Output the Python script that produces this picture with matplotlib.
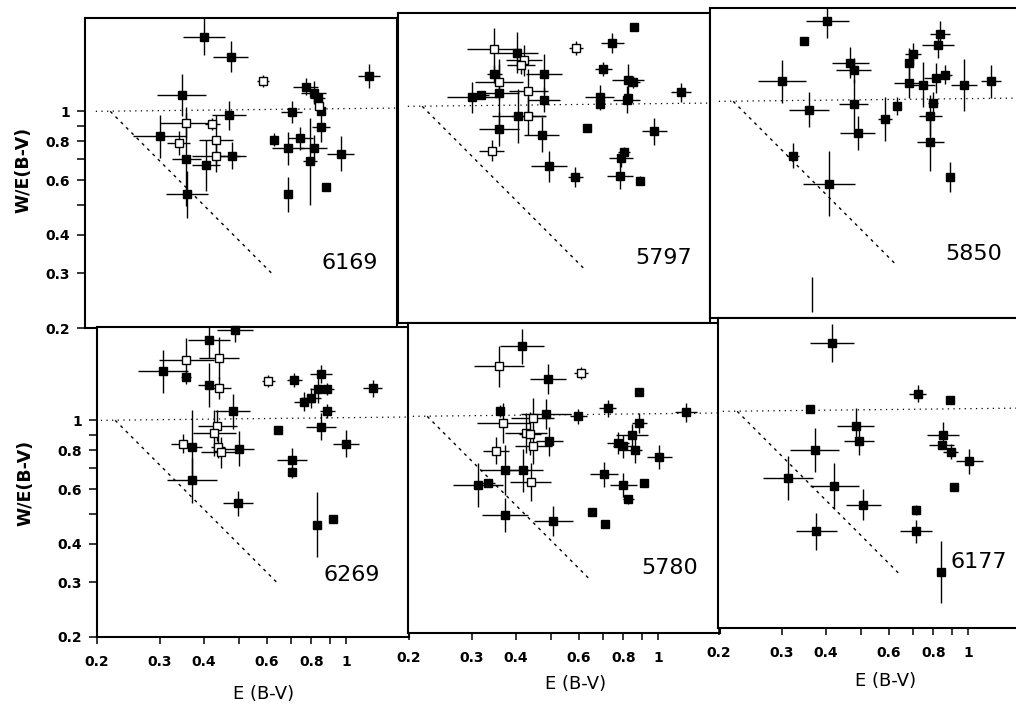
#!/usr/bin/env python3
"""Six-panel log-log plot of W/E(B-V) against E(B-V) for six DIBs."""

import matplotlib

matplotlib.use("Agg")
import matplotlib.pyplot as plt
import numpy as np
from matplotlib.ticker import FixedFormatter, FixedLocator, NullFormatter, NullLocator

# ---------------------------------------------------------------- data
# errors are half-widths in dex (log10)
X_6169 = [0.413, 0.49, 0.605, 0.357, 0.484, 0.368, 0.436, 0.31, 0.35, 0.446, 0.368, 0.446, 0.495, 0.418,
          0.37, 0.65, 0.727, 0.71, 0.77, 0.797, 0.84, 0.86, 0.88, 0.87, 0.88, 0.84, 0.82, 0.71, 0.91, 1.0, 1.2]
Y_6169 = [1.74, 1.50, 1.25, 1.13, 0.97, 0.92, 0.91, 0.83, 0.79, 0.81, 0.70, 0.72, 0.72, 0.67,
          0.54, 0.81, 0.995, 0.76, 0.82, 1.2, 1.15, 1.1, 1.0, 1.04, 0.89, 0.76, 0.69, 0.54, 0.57, 0.73, 1.3]
DX_6169 = [0.060, 0.050, 0.016, 0.069, 0.048, 0.075, 0.02, 0.075, 0.033, 0.047, 0.04, 0.068, 0.038, 0.04,
           0.058, 0.0, 0.03, 0.045, 0.035, 0.035, 0.035, 0.02, 0.01, 0.0, 0.026, 0.038, 0.02, 0.0, 0.0, 0.038, 0.03]
DY_6169 = [0.059, 0.050, 0.020, 0.067, 0.046, 0.05, 0.02, 0.07, 0.038, 0.08, 0.15, 0.054, 0.043, 0.083,
           0.075, 0.02, 0.037, 0.054, 0.037, 0.028, 0.037, 0.02, 0.01, 0.0, 0.048, 0.043, 0.14, 0.056, 0.0, 0.056, 0.038]
OPEN_6169 = [0, 0, 1, 0, 0, 1, 1, 0, 1, 1, 0, 1, 0, 0, 0, 0, 0, 0, 0, 0, 0, 0, 0, 1, 0, 0, 0, 0, 0, 0, 0]

X_5797 = [0.358, 0.416, 0.435, 0.426, 0.359, 0.495, 0.37, 0.311, 0.33, 0.37, 0.447, 0.495, 0.419, 0.447,
          0.37, 0.487, 0.353, 0.51, 0.605, 0.608, 0.77, 0.886, 0.726, 0.853, 0.88, 0.709, 0.709, 0.844,
          0.85, 0.653, 1.01, 0.828, 0.814, 0.81, 0.92, 1.2]
Y_5797 = [1.53, 1.49, 1.41, 1.36, 1.27, 1.27, 1.2, 1.07, 1.09, 1.10, 1.12, 1.05, 0.93, 0.93,
          0.845, 0.81, 0.72, 0.64, 0.59, 1.54, 1.6, 1.8, 1.32, 1.22, 1.20, 1.07, 1.02, 1.05,
          1.06, 0.85, 0.83, 0.714, 0.683, 0.598, 0.576, 1.11]
DX_5797 = [0.075, 0.058, 0.05, 0.04, 0.02, 0.05, 0.068, 0.07, 0.02, 0.056, 0.054, 0.045, 0.075, 0.05,
           0.056, 0.05, 0.035, 0.05, 0.021, 0.02, 0.033, 0.0, 0.023, 0.045, 0.02, 0.04, 0.0, 0.037,
           0.01, 0.0, 0.035, 0.017, 0.033, 0.037, 0.0, 0.027]
DY_5797 = [0.067, 0.067, 0.05, 0.03, 0.03, 0.065, 0.058, 0.05, 0.01, 0.11, 0.07, 0.04, 0.086, 0.06,
           0.054, 0.056, 0.035, 0.05, 0.032, 0.022, 0.032, 0.0, 0.024, 0.05, 0.02, 0.04, 0.0, 0.043,
           0.01, 0.0, 0.043, 0.015, 0.03, 0.043, 0.015, 0.03]
OPEN_5797 = [1, 0, 1, 1, 0, 0, 1, 0, 0, 0, 1, 0, 0, 1, 0, 0, 1, 0, 0, 1, 0, 0, 0, 0, 0, 0, 0, 0,
             0, 0, 0, 0, 0, 0, 0, 0]

X_5850 = [0.414, 0.356, 0.309, 0.479, 0.49, 0.49, 0.368, 0.503, 0.6, 0.65, 0.331, 0.419, 0.70, 0.72,
          0.70, 0.77, 0.836, 0.885, 0.846, 0.855, 1.0, 1.19, 0.82, 0.806, 0.806, 0.916]
Y_5850 = [1.81, 1.57, 1.16, 1.33, 1.26, 0.98, 0.94, 0.79, 0.877, 0.966, 0.668, 0.543, 1.33, 1.42,
          1.15, 1.13, 1.19, 1.22, 1.52, 1.65, 1.13, 1.16, 0.985, 0.9, 0.738, 0.57]
DX_5850 = [0.06, 0.0, 0.068, 0.052, 0.05, 0.042, 0.056, 0.05, 0.02, 0.01, 0.016, 0.073, 0.01, 0.023,
           0.041, 0.033, 0.033, 0.019, 0.045, 0.028, 0.037, 0.028, 0.014, 0.033, 0.037, 0.0]
DY_5850 = [0.054, 0.0, 0.07, 0.05, 0.04, 0.08, 0.056, 0.056, 0.07, 0.03, 0.04, 0.105, 0.048, 0.035,
           0.05, 0.073, 0.048, 0.032, 0.043, 0.04, 0.083, 0.054, 0.038, 0.065, 0.093, 0.048]
OPEN_5850 = [0] * 26
# lone vertical bar (point below the plotted range)
BAR_5850_X = [0.375]
BAR_5850_YLO = [0.209]
BAR_5850_YHI = [0.272]

X_6269 = [0.488, 0.413, 0.356, 0.44, 0.307, 0.356, 0.413, 0.44, 0.481, 0.436, 0.427, 0.348, 0.369, 0.438,
          0.446, 0.502, 0.369, 0.497, 0.606, 0.717, 0.852, 0.834, 0.884, 0.798, 0.764, 0.887, 0.85,
          0.643, 1.0, 0.707, 0.707, 0.832, 0.918, 1.19]
Y_6269 = [1.96, 1.82, 1.57, 1.59, 1.44, 1.38, 1.3, 1.27, 1.07, 0.96, 0.91, 0.84, 0.82, 0.82,
          0.79, 0.81, 0.64, 0.54, 1.34, 1.35, 1.41, 1.26, 1.26, 1.18, 1.15, 1.07, 0.954,
          0.93, 0.84, 0.745, 0.68, 0.46, 0.48, 1.27]
DX_6269 = [0.05, 0.06, 0.077, 0.056, 0.07, 0.015, 0.03, 0.035, 0.05, 0.054, 0.06, 0.033, 0.03, 0.02,
           0.056, 0.042, 0.07, 0.042, 0.019, 0.021, 0.03, 0.021, 0.02, 0.028, 0.03, 0.021, 0.042,
           0.0, 0.037, 0.042, 0.0, 0.01, 0.0, 0.026]
DY_6269 = [0.04, 0.06, 0.07, 0.067, 0.07, 0.024, 0.07, 0.035, 0.056, 0.05, 0.075, 0.03, 0.12, 0.035,
           0.05, 0.056, 0.073, 0.04, 0.02, 0.022, 0.03, 0.045, 0.02, 0.032, 0.03, 0.022, 0.043,
           0.0, 0.043, 0.038, 0.018, 0.105, 0.0, 0.027]
OPEN_6269 = [0, 0, 1, 1, 0, 0, 0, 1, 0, 1, 1, 1, 0, 1, 1, 0, 0, 0, 1, 0, 0, 0, 0, 0, 0, 0, 0,
             0, 0, 0, 0, 0, 0, 0]

X_5780 = [0.415, 0.358, 0.492, 0.608, 0.887, 0.36, 0.484, 0.598, 0.723, 1.2, 0.368, 0.445, 0.426, 0.437,
          0.447, 0.495, 0.351, 0.371, 0.419, 0.439, 0.313, 0.333, 0.372, 0.509, 0.652, 0.71, 0.707,
          0.80, 0.826, 0.912, 0.772, 0.80, 0.844, 0.86, 0.887, 1.01]
Y_5780 = [1.68, 1.45, 1.32, 1.38, 1.2, 1.04, 1.02, 1.0, 1.06, 1.03, 0.95, 0.985, 0.885, 0.88,
          0.8, 0.83, 0.775, 0.67, 0.67, 0.615, 0.6, 0.61, 0.48, 0.46, 0.49, 0.45, 0.65,
          0.6, 0.54, 0.61, 0.82, 0.8, 0.87, 0.78, 0.95, 0.74]
DX_5780 = [0.061, 0.07, 0.05, 0.02, 0.0, 0.01, 0.07, 0.023, 0.023, 0.03, 0.075, 0.06, 0.058, 0.03,
           0.052, 0.038, 0.037, 0.07, 0.054, 0.058, 0.07, 0.02, 0.065, 0.054, 0.0, 0.0, 0.04,
           0.037, 0.015, 0.0, 0.03, 0.03, 0.045, 0.02, 0.021, 0.035]
DY_5780 = [0.056, 0.067, 0.048, 0.02, 0.0, 0.02, 0.048, 0.024, 0.027, 0.03, 0.065, 0.065, 0.065, 0.07,
           0.056, 0.048, 0.043, 0.08, 0.07, 0.062, 0.07, 0.01, 0.056, 0.048, 0.0, 0.0, 0.04,
           0.04, 0.015, 0.0, 0.035, 0.037, 0.037, 0.043, 0.032, 0.038]
OPEN_5780 = [0, 1, 0, 1, 0, 0, 0, 0, 0, 0, 1, 1, 1, 1, 1, 0, 1, 0, 0, 1, 0, 0, 0, 0, 0, 0, 0,
             0, 0, 0, 0, 0, 0, 0, 0, 0]

X_6177 = [0.415, 0.36, 0.723, 0.89, 0.485, 0.496, 0.371, 0.313, 0.422, 0.509, 0.375, 0.85, 0.844,
          0.895, 1.01, 0.917, 0.713, 0.715, 0.84]
Y_6177 = [1.66, 1.02, 1.14, 1.09, 0.9, 0.8, 0.75, 0.61, 0.574, 0.5, 0.41, 0.84, 0.78,
          0.74, 0.69, 0.57, 0.48, 0.41, 0.304]
DX_6177 = [0.061, 0.0, 0.023, 0.0, 0.052, 0.042, 0.069, 0.07, 0.07, 0.05, 0.058, 0.045, 0.035,
           0.021, 0.037, 0.0, 0.0, 0.044, 0.01]
DY_6177 = [0.062, 0.0, 0.027, 0.0, 0.056, 0.043, 0.07, 0.07, 0.073, 0.05, 0.059, 0.04, 0.01,
           0.024, 0.04, 0.0, 0.015, 0.038, 0.1]
OPEN_6177 = [0] * 19

# reference lines (same in every panel)
HLINE_X = [0.205, 1.5]
HLINE_Y = [1.0, 1.025]
DIAG_X = [0.225, 0.64]
DIAG_Y = [1.0, 0.3]

X_MAJOR = [0.2, 0.3, 0.4, 0.6, 0.8, 1.0]
X_MAJOR_LABELS = ["0.2", "0.3", "0.4", "0.6", "0.8", "1"]
X_MINOR = [0.5, 0.7, 0.9]
Y_MAJOR = [0.2, 0.3, 0.4, 0.6, 0.8, 1.0]
Y_MAJOR_LABELS = ["0.2", "0.3", "0.4", "0.6", "0.8", "1"]
Y_MINOR = [0.5, 0.7, 0.9]

# ---------------------------------------------------------------- layout (pixels)
W_PX, H_PX = 1016, 705
PANEL_W, PANEL_H = 312, 310
PX_PER_DECADE = 356

# name, frame left, frame bottom, pixel of x=0.2, label pos (axes frac), left col, bottom row, xlabel pos
PANELS = [
    ("6169", 85, 328, 92, (0.85, 0.21), True, False, None),
    ("5797", 398, 323, 404, (0.85, 0.21), False, False, None),
    ("5850", 710, 318, 715, (0.846, 0.208), False, False, None),
    ("6269", 97, 637, 97, (0.817, 0.20), True, True, (264, 694)),
    ("5780", 408, 633, 409, (0.84, 0.21), False, True, (576, 684)),
    ("6177", 718, 628, 719, (0.836, 0.213), False, True, (886, 681)),
]
YLABEL_POS = [(23, 170), (25, 483)]

SERIES = {
    "6169": (X_6169, Y_6169, DX_6169, DY_6169, OPEN_6169),
    "5797": (X_5797, Y_5797, DX_5797, DY_5797, OPEN_5797),
    "5850": (X_5850, Y_5850, DX_5850, DY_5850, OPEN_5850),
    "6269": (X_6269, Y_6269, DX_6269, DY_6269, OPEN_6269),
    "5780": (X_5780, Y_5780, DX_5780, DY_5780, OPEN_5780),
    "6177": (X_6177, Y_6177, DX_6177, DY_6177, OPEN_6177),
}

TICK_FONT = dict(family="DejaVu Sans", weight="bold", size=10)


def dex_err(values, dex):
    v = np.asarray(values, float)
    d = np.asarray(dex, float)
    return np.vstack([v - v / 10 ** d, v * 10 ** d - v])


def draw_panel(fig, name, left, bottom, x0, label_pos, left_col, bottom_row):
    ax = fig.add_axes([left / W_PX, 1 - bottom / H_PX, PANEL_W / W_PX, PANEL_H / H_PX])
    ax.set_xscale("log")
    ax.set_yscale("log")
    ax.set_xlim(0.2 * 10 ** ((left - x0) / PX_PER_DECADE),
                0.2 * 10 ** ((left + PANEL_W - x0) / PX_PER_DECADE))
    ax.set_ylim(0.2, 2.0)

    x, y, dx, dy, is_open = SERIES[name]
    x = np.asarray(x)
    y = np.asarray(y)
    is_open = np.asarray(is_open, bool)

    ax.plot(HLINE_X, HLINE_Y, color="black", lw=0.9, linestyle=(0, (1, 3.5)), zorder=1)
    ax.plot(DIAG_X, DIAG_Y, color="black", lw=1.0, linestyle=(0, (2.2, 3.2)), zorder=1)

    ax.errorbar(x, y, xerr=dex_err(x, dx), yerr=dex_err(y, dy), fmt="none",
                ecolor="black", elinewidth=1.0, capsize=0, zorder=2)
    ax.plot(x[~is_open], y[~is_open], "s", color="black", ms=6, zorder=3, clip_on=False)
    ax.plot(x[is_open], y[is_open], "s", mfc="white", mec="black", mew=1.0, ms=6,
            zorder=3, clip_on=False)

    if name == "5850":
        ax.vlines(BAR_5850_X, BAR_5850_YLO, BAR_5850_YHI, color="black", lw=1.0, zorder=2)

    ax.text(label_pos[0], label_pos[1], name, transform=ax.transAxes, ha="center", va="center",
            fontsize=16, family="DejaVu Sans")

    for side in ax.spines.values():
        side.set_linewidth(1.5)

    if bottom_row:
        ax.xaxis.set_major_locator(FixedLocator(X_MAJOR))
        ax.xaxis.set_major_formatter(FixedFormatter(X_MAJOR_LABELS))
        ax.xaxis.set_minor_locator(FixedLocator(X_MINOR))
        ax.xaxis.set_minor_formatter(NullFormatter())
        ax.tick_params(axis="x", which="both", direction="out", length=5, width=1.1, pad=8)
        for lab in ax.get_xticklabels():
            lab.set(**TICK_FONT)
    else:
        ax.xaxis.set_major_locator(NullLocator())
        ax.xaxis.set_minor_locator(NullLocator())

    if left_col:
        ax.yaxis.set_major_locator(FixedLocator(Y_MAJOR))
        ax.yaxis.set_major_formatter(FixedFormatter(Y_MAJOR_LABELS))
        ax.yaxis.set_minor_locator(FixedLocator(Y_MINOR))
        ax.yaxis.set_minor_formatter(NullFormatter())
        ax.tick_params(axis="y", which="both", direction="out", length=6, width=1.1, pad=5)
        for lab in ax.get_yticklabels():
            lab.set(**TICK_FONT)
    else:
        ax.yaxis.set_major_locator(NullLocator())
        ax.yaxis.set_minor_locator(NullLocator())
    return ax


def main():
    fig = plt.figure(figsize=(W_PX / 100, H_PX / 100), dpi=100)
    for name, left, bottom, x0, label_pos, left_col, bottom_row, xlab in PANELS:
        draw_panel(fig, name, left, bottom, x0, label_pos, left_col, bottom_row)
        if xlab is not None:
            fig.text(xlab[0] / W_PX, 1 - xlab[1] / H_PX, "E (B-V)", ha="center", va="center",
                     fontsize=13, family="DejaVu Sans")
    for px, py in YLABEL_POS:
        fig.text(px / W_PX, 1 - py / H_PX, "W/E(B-V)", rotation=90, ha="center", va="center",
                 fontsize=12.5, fontweight="bold", family="DejaVu Sans")
    fig.savefig("out.png", dpi=100)
    plt.close(fig)


if __name__ == "__main__":
    main()
